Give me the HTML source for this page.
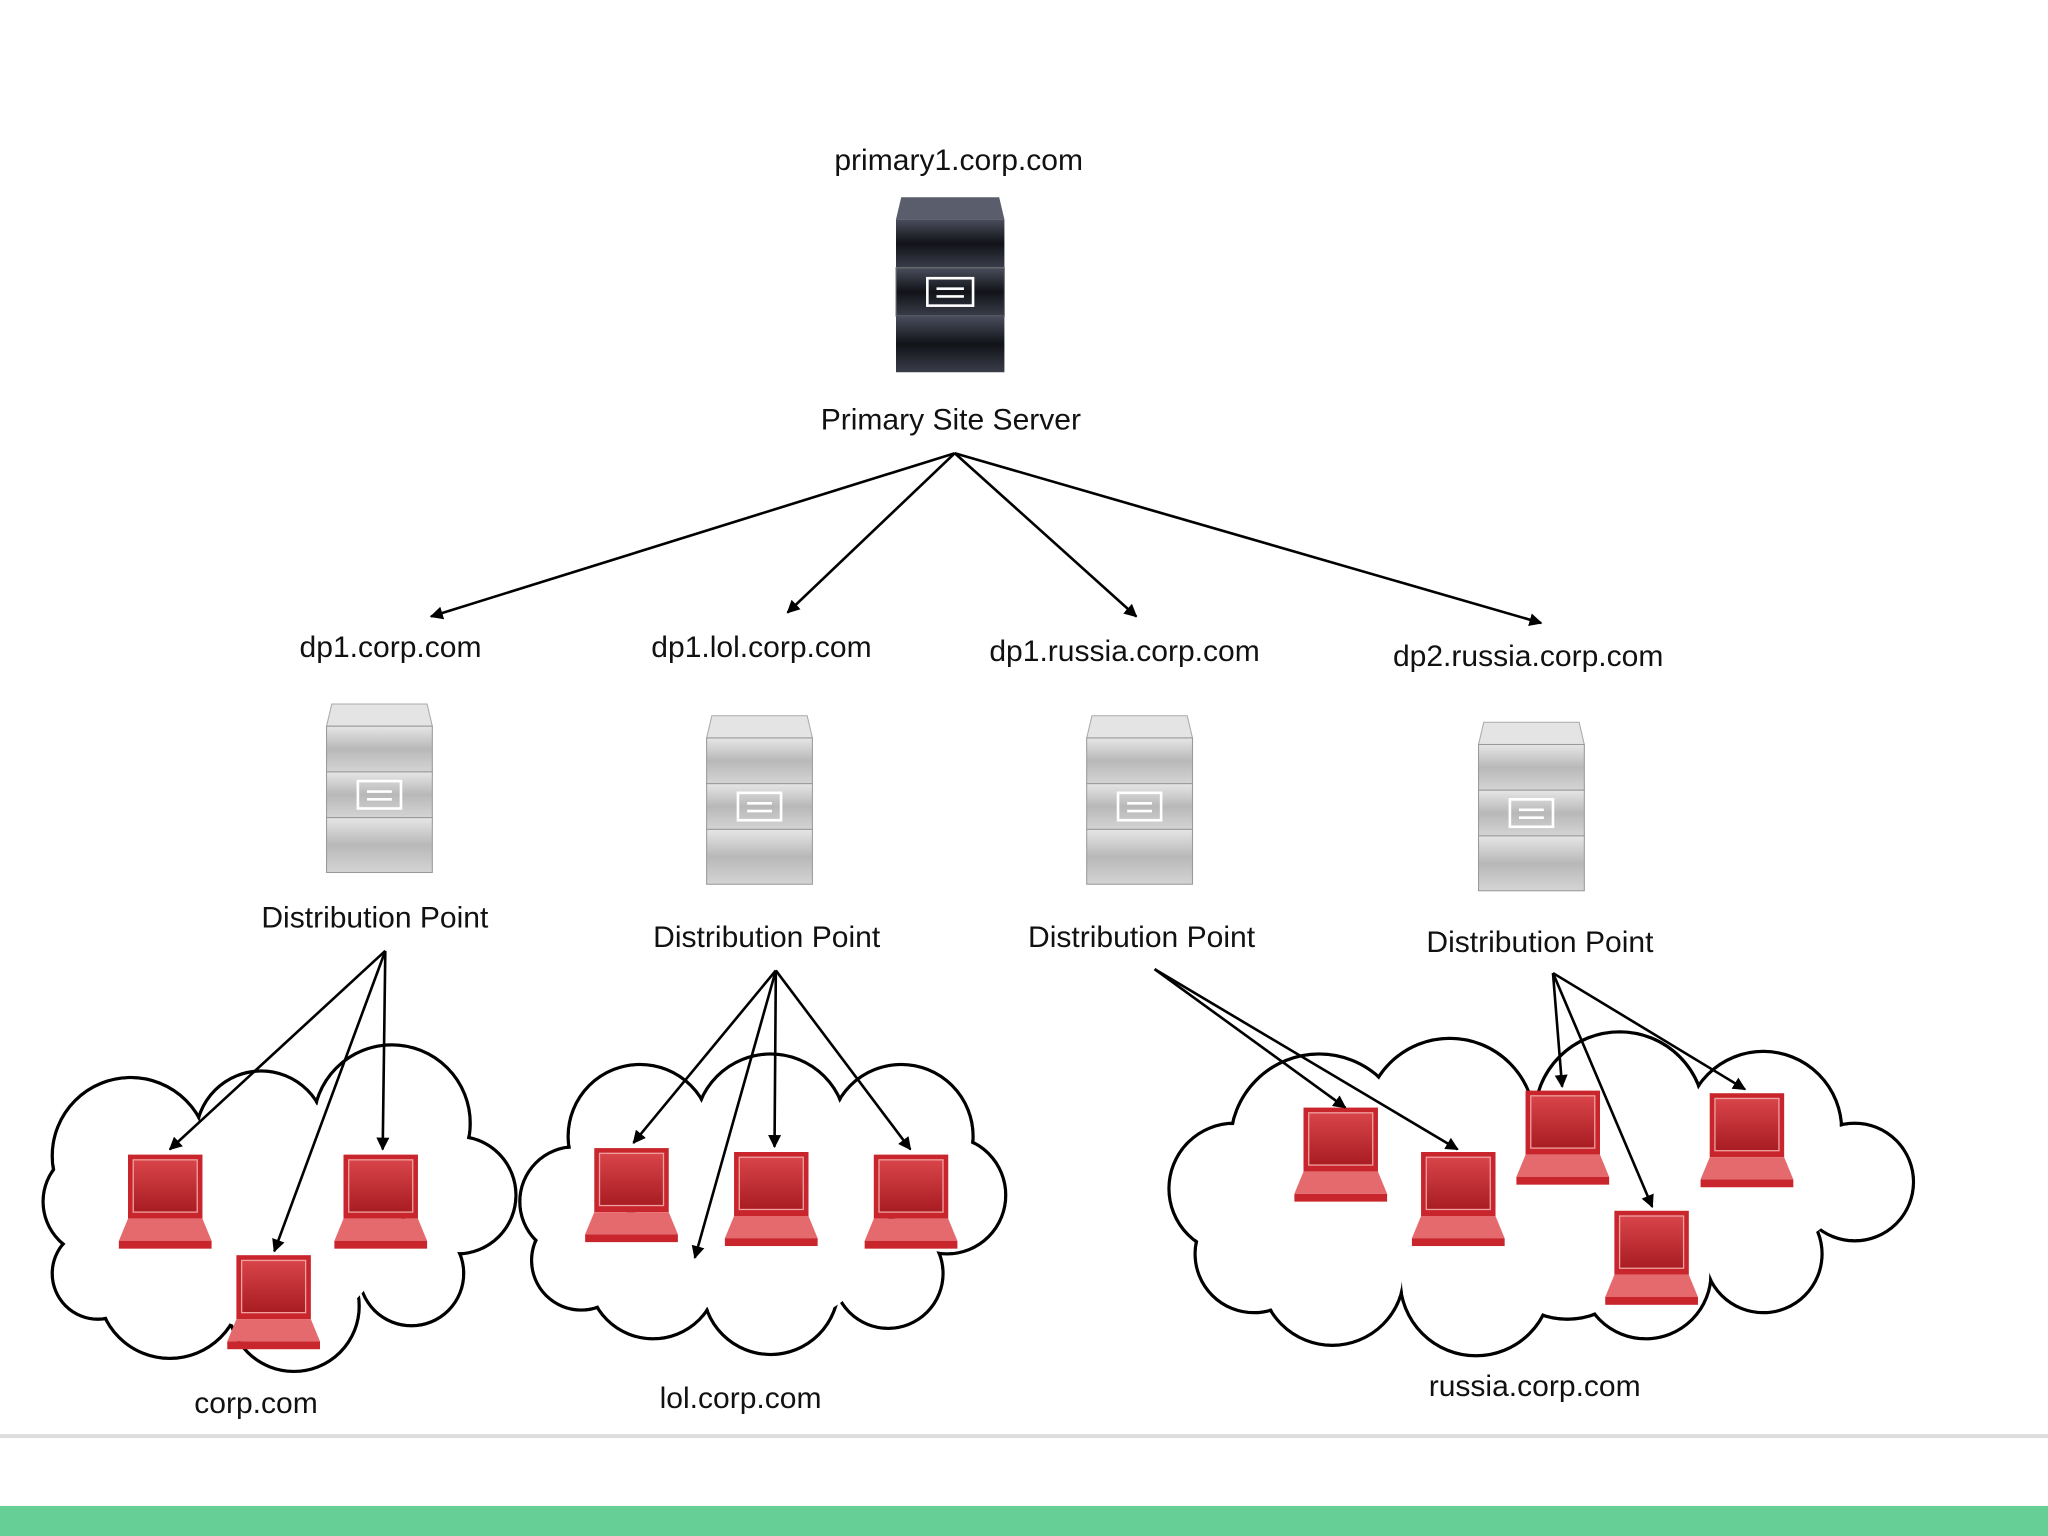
<!DOCTYPE html>
<html><head><style>html,body{margin:0;padding:0;background:#fff}svg{display:block}</style></head>
<body>
<svg width="2048" height="1536" viewBox="0 0 1568 1176" xmlns="http://www.w3.org/2000/svg" font-family="Liberation Sans, sans-serif">
<defs>
<marker id="ah" markerWidth="10" markerHeight="10" refX="9" refY="5" orient="auto" markerUnits="userSpaceOnUse"><path d="M0,0 L10,5 L0,10 z" fill="#000"/></marker>
<linearGradient id="dk" x1="0" y1="0" x2="0" y2="1"><stop offset="0" stop-color="#4a4d5c"/><stop offset="0.5" stop-color="#111318"/><stop offset="1" stop-color="#3a3d4a"/></linearGradient>
<linearGradient id="gr" x1="0" y1="0" x2="0" y2="1"><stop offset="0" stop-color="#e6e6e6"/><stop offset="0.5" stop-color="#b8b8b8"/><stop offset="1" stop-color="#d4d4d4"/></linearGradient>
<linearGradient id="rd" x1="0" y1="0" x2="0" y2="1"><stop offset="0" stop-color="#d8454a"/><stop offset="1" stop-color="#a81c22"/></linearGradient>
<g id="srvd">
<path d="M4,0 H79 L83,17 H0 Z" fill="#5a5d6c"/>
<rect x="0" y="17" width="83" height="37" fill="url(#dk)"/>
<rect x="0" y="54" width="83" height="37" fill="url(#dk)" stroke="#777" stroke-width="0.8"/>
<rect x="0" y="91" width="83" height="43" fill="url(#dk)"/>
<rect x="24" y="62" width="35" height="21" fill="none" stroke="#fff" stroke-width="2"/>
<path d="M31,70 H52 M31,76 H52" stroke="#fff" stroke-width="2"/>
</g>
<g id="srvg">
<path d="M4,0 H77 L81,17 H0 Z" fill="#e4e4e4" stroke="#aaa" stroke-width="0.8"/>
<rect x="0" y="17" width="81" height="35" fill="url(#gr)" stroke="#999" stroke-width="0.8"/>
<rect x="0" y="52" width="81" height="35" fill="url(#gr)" stroke="#999" stroke-width="0.8"/>
<rect x="0" y="87" width="81" height="42" fill="url(#gr)" stroke="#999" stroke-width="0.8"/>
<rect x="24" y="59" width="33" height="21" fill="none" stroke="#fff" stroke-width="2"/>
<path d="M31,67 H50 M31,73 H50" stroke="#fff" stroke-width="2"/>
</g>
<g id="lap">
<rect x="7" y="0" width="57" height="49" fill="#c8262c"/>
<rect x="11" y="4" width="49" height="40" fill="url(#rd)" stroke="#f0a0a0" stroke-width="1"/>
<path d="M7,49 H64 L71,66 H0 Z" fill="#e56a6e"/>
<rect x="0" y="66" width="71" height="6" fill="#c8262c"/>
</g>
</defs>

<!-- clouds -->
<g stroke="#000" stroke-width="2.5" fill="none">
<circle cx="100" cy="885" r="60"/><circle cx="200" cy="870" r="50"/><circle cx="300" cy="860" r="60"/><circle cx="350" cy="915" r="45"/><circle cx="315" cy="975" r="40"/><circle cx="225" cy="1000" r="50"/><circle cx="130" cy="985" r="55"/><circle cx="75" cy="920" r="42"/><circle cx="75" cy="975" r="35"/>
<circle cx="490" cy="870" r="55"/><circle cx="590" cy="865" r="58"/><circle cx="690" cy="870" r="55"/><circle cx="725" cy="915" r="45"/><circle cx="680" cy="975" r="42"/><circle cx="590" cy="985" r="52"/><circle cx="500" cy="975" r="50"/><circle cx="440" cy="920" r="42"/><circle cx="445" cy="965" r="38"/>
<circle cx="1010" cy="875" r="68"/><circle cx="1110" cy="860" r="65"/><circle cx="1240" cy="855" r="65"/><circle cx="1350" cy="865" r="60"/><circle cx="1420" cy="905" r="45"/><circle cx="1350" cy="960" r="45"/><circle cx="1260" cy="975" r="50"/><circle cx="1130" cy="980" r="58"/><circle cx="1020" cy="975" r="55"/><circle cx="945" cy="910" r="50"/><circle cx="960" cy="960" r="45"/><circle cx="1200" cy="950" r="60"/>
</g>
<g fill="#fff">
<circle cx="100" cy="885" r="58.7"/><circle cx="200" cy="870" r="48.7"/><circle cx="300" cy="860" r="58.7"/><circle cx="350" cy="915" r="43.7"/><circle cx="315" cy="975" r="38.7"/><circle cx="225" cy="1000" r="48.7"/><circle cx="130" cy="985" r="53.7"/><circle cx="75" cy="920" r="40.7"/><circle cx="75" cy="975" r="33.7"/><circle cx="210" cy="930" r="90"/>
<circle cx="490" cy="870" r="53.7"/><circle cx="590" cy="865" r="56.7"/><circle cx="690" cy="870" r="53.7"/><circle cx="725" cy="915" r="43.7"/><circle cx="680" cy="975" r="40.7"/><circle cx="590" cy="985" r="50.7"/><circle cx="500" cy="975" r="48.7"/><circle cx="440" cy="920" r="40.7"/><circle cx="445" cy="965" r="36.7"/><circle cx="590" cy="925" r="90"/>
<circle cx="1010" cy="875" r="66.7"/><circle cx="1110" cy="860" r="63.7"/><circle cx="1240" cy="855" r="63.7"/><circle cx="1350" cy="865" r="58.7"/><circle cx="1420" cy="905" r="43.7"/><circle cx="1350" cy="960" r="43.7"/><circle cx="1260" cy="975" r="48.7"/><circle cx="1130" cy="980" r="56.7"/><circle cx="1020" cy="975" r="53.7"/><circle cx="945" cy="910" r="48.7"/><circle cx="960" cy="960" r="43.7"/><circle cx="1200" cy="950" r="58.7"/><ellipse cx="1180" cy="915" rx="230" ry="70"/>
</g>

<!-- servers -->
<use href="#srvd" x="686" y="151"/>
<use href="#srvg" x="250" y="539"/>
<use href="#srvg" x="541" y="548"/>
<use href="#srvg" x="832" y="548"/>
<use href="#srvg" x="1132" y="553"/>

<!-- laptops -->
<use href="#lap" x="91" y="884"/><use href="#lap" x="256" y="884"/><use href="#lap" x="174" y="961"/>
<use href="#lap" x="448" y="879"/><use href="#lap" x="555" y="882"/><use href="#lap" x="662" y="884"/>
<use href="#lap" x="991" y="848"/><use href="#lap" x="1081" y="882"/><use href="#lap" x="1161" y="835"/><use href="#lap" x="1302" y="837"/><use href="#lap" x="1229" y="927"/>

<!-- arrows -->
<g stroke="#000" stroke-width="2" fill="none" marker-end="url(#ah)">
<line x1="731" y1="347" x2="330" y2="472"/><line x1="731" y1="347" x2="603" y2="469"/><line x1="731" y1="347" x2="870" y2="472"/><line x1="731" y1="347" x2="1180" y2="477"/>
<line x1="295" y1="728" x2="130" y2="880"/><line x1="295" y1="728" x2="210" y2="958"/><line x1="295" y1="728" x2="293" y2="880"/>
<line x1="594" y1="743" x2="485" y2="875"/><line x1="594" y1="743" x2="532" y2="963"/><line x1="594" y1="743" x2="593" y2="878"/><line x1="594" y1="743" x2="697" y2="880"/>
<line x1="884" y1="742" x2="1030" y2="848"/><line x1="884" y1="742" x2="1116" y2="880"/>
<line x1="1189" y1="745" x2="1196" y2="832"/><line x1="1189" y1="745" x2="1336" y2="834"/><line x1="1189" y1="745" x2="1265" y2="924"/>
</g>

<!-- labels -->
<g font-size="23" fill="#111" text-anchor="middle">
<text x="734" y="130">primary1.corp.com</text>
<text x="728" y="329">Primary Site Server</text>
<text x="299" y="503">dp1.corp.com</text>
<text x="583" y="503">dp1.lol.corp.com</text>
<text x="861" y="506">dp1.russia.corp.com</text>
<text x="1170" y="510">dp2.russia.corp.com</text>
<text x="287" y="710">Distribution Point</text>
<text x="587" y="725">Distribution Point</text>
<text x="874" y="725">Distribution Point</text>
<text x="1179" y="729">Distribution Point</text>
<text x="196" y="1082">corp.com</text>
<text x="567" y="1078">lol.corp.com</text>
<text x="1175" y="1069">russia.corp.com</text>
</g>

<rect x="0" y="1098" width="1568" height="3" fill="#ddd"/>
<rect x="0" y="1153" width="1568" height="23" fill="#66cf95"/>
</svg>
</body></html>
